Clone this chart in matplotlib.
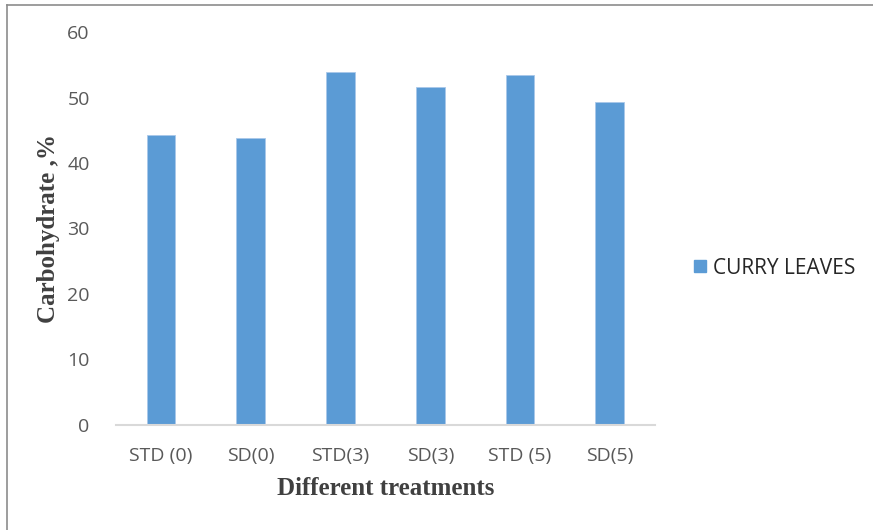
import matplotlib.pyplot as plt
from matplotlib.lines import Line2D

# Carbohydrate content per treatment
treatments = ['STD (0)', 'SD(0)', 'STD(3)', 'SD(3)', 'STD (5)', 'SD(5)']
carbohydrate = [44.3, 43.8, 54.0, 51.7, 53.5, 49.3]
series_name = 'CURRY LEAVES'

bar_color = '#5B9BD5'
tick_color = '#595959'
title_color = '#404040'
tick_font = 'Open Sans'

fig = plt.figure(figsize=(8.73, 5.3), dpi=100)
ax = fig.add_axes([0.133, 0.199, 0.617, 0.740])

x = range(len(treatments))
ax.bar(x, carbohydrate, width=0.32, color=bar_color,
       edgecolor='#A9C8EA', linewidth=0.6, label=series_name)

ax.set_xlim(-0.5, len(treatments) - 0.5)
ax.set_ylim(0, 60)
ax.set_yticks(range(0, 61, 10))
ax.set_xticks(list(x))
ax.set_xticklabels(treatments)

for side in ['top', 'right', 'left']:
    ax.spines[side].set_visible(False)
ax.spines['bottom'].set_color('#D9D9D9')
ax.spines['bottom'].set_linewidth(1.5)

ax.tick_params(axis='both', length=0, labelsize=14, labelcolor=tick_color)
ax.tick_params(axis='y', pad=19)
ax.tick_params(axis='x', pad=16)
for lbl in ax.get_xticklabels() + ax.get_yticklabels():
    lbl.set_fontfamily(tick_font)

ax.set_ylabel('Carbohydrate ,%', fontfamily='Liberation Serif', fontweight='bold',
              fontsize=18, color=title_color, labelpad=5)
ax.set_xlabel('Different treatments', fontfamily='Liberation Serif', fontweight='bold',
              fontsize=18, color=title_color, labelpad=9)

leg = fig.legend(handles=[Line2D([], [], marker='s', linestyle='none',
                                 markersize=8, color=bar_color, label=series_name)],
                 loc='center left', bbox_to_anchor=(0.792, 0.494), frameon=False,
                 borderpad=0, borderaxespad=0, handlelength=0.85,
                 handletextpad=0.2, prop={'family': tick_font, 'size': 15})
for t in leg.get_texts():
    t.set_color('#262626')

# chart border (left and top edges visible)
fig.add_artist(Line2D([0.0075, 0.0075], [0, 0.99], transform=fig.transFigure,
                      color='#8C8C8C', linewidth=1.2))
fig.add_artist(Line2D([0.0075, 1.0], [0.99, 0.99], transform=fig.transFigure,
                      color='#8C8C8C', linewidth=1.2))

fig.savefig('out.png', dpi=100, facecolor='white')
